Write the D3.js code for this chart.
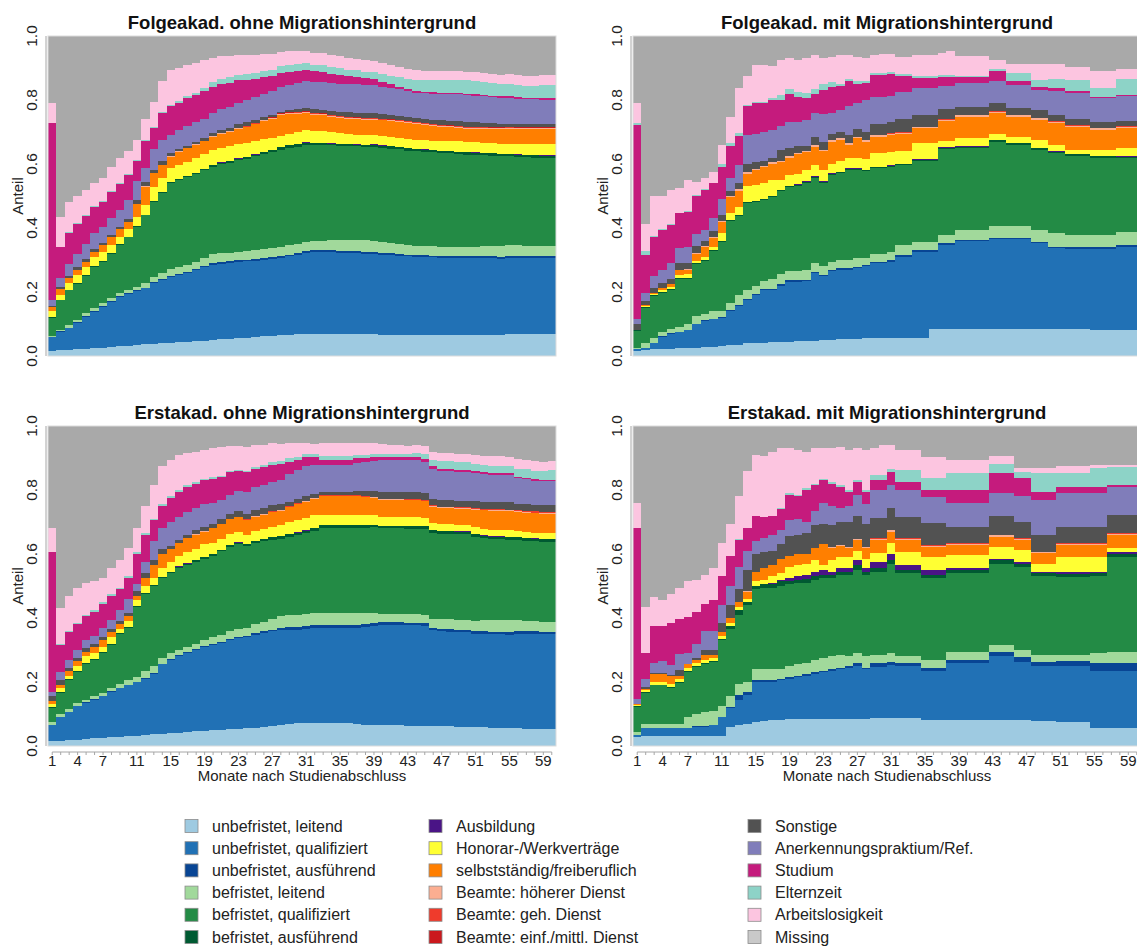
<!DOCTYPE html>
<html lang="de">
<head>
<meta charset="utf-8">
<title>Erwerbsverlauf nach Studienabschluss</title>
<script src="https://cdn.jsdelivr.net/npm/d3@7"></script>
<style>
    body { margin: 0; background: #ffffff; }
    svg { font-family: "Liberation Sans", Arial, sans-serif; }
</style>
</head>
<body>
<script type="text/javascript">

    var months = d3.range(1, 61);
    var tickMonths = [1, 4, 7, 11, 15, 19, 23, 27, 31, 35, 39, 43, 47, 51, 55, 59];
    var yTicks = [0, 0.2, 0.4, 0.6, 0.8, 1.0];

    var categories = ['unbefristet, leitend', 'unbefristet, qualifiziert', 'unbefristet, ausführend',
        'befristet, leitend', 'befristet, qualifiziert', 'befristet, ausführend',
        'Ausbildung', 'Honorar-/Werkverträge', 'selbstständig/freiberuflich',
        'Beamte: höherer Dienst', 'Beamte: geh. Dienst', 'Beamte: einf./mittl. Dienst',
        'Sonstige', 'Anerkennungspraktium/Ref.', 'Studium', 'Elternzeit', 'Arbeitslosigkeit', 'Missing'];
    var colors = ['#9ecae1', '#2171b5', '#084594', '#a1d99b', '#238b45', '#005a32',
        '#4a1486', '#ffff33', '#ff7f00', '#fcae91', '#ef3b2c', '#cb181d',
        '#525252', '#807dba', '#c51b7d', '#8dd3c7', '#fcc5e0', '#a9a9a9'];
    var legendColors = colors.slice(0, 17).concat(['#c9c9c9']);

    // Folgeakad. ohne Migrationshintergrund
    var FO_uL = [.017,.019,.020,.021,.022,.024,.026,.028,.030,.032, .034,.036,.038,.040,.042,.043,.044,.046,.048,.050, .052,.053,.055,.056,.058,.061,.063,.066,.067,.068, .069,.069,.069,.069,.068,.068,.068,.068,.068,.067, .067,.067,.066,.066,.066,.066,.066,.066,.066,.066, .066,.067,.067,.067,.068,.068,.069,.069,.070,.070];
    var FO_uQ = [.041,.057,.066,.083,.101,.115,.128,.142,.155,.162, .170,.175,.189,.197,.206,.210,.216,.222,.229,.235, .237,.238,.239,.240,.240,.240,.240,.239,.244,.249, .254,.257,.257,.256,.255,.254,.253,.252,.251,.249, .248,.247,.245,.244,.243,.242,.241,.240,.239,.239, .239,.238,.238,.237,.237,.237,.236,.236,.235,.235];
    var FO_uA = [.002,.002,.002,.002,.002,.002,.002,.002,.002,.002, .002,.002,.003,.003,.003,.003,.003,.003,.003,.005, .005,.005,.005,.005,.005,.005,.005,.006,.006,.006, .006,.006,.006,.006,.006,.006,.006,.006,.006,.006, .006,.006,.006,.006,.006,.006,.006,.006,.006,.006, .006,.006,.006,.006,.006,.006,.006,.006,.006,.006];
    var FO_bL = [.003,.004,.009,.006,.008,.008,.011,.010,.011,.010, .011,.016,.018,.020,.020,.023,.021,.024,.027,.029, .028,.027,.027,.026,.027,.028,.029,.030,.029,.028, .027,.026,.028,.030,.032,.034,.035,.036,.035,.034, .032,.030,.029,.028,.028,.029,.029,.030,.030,.030, .031,.032,.033,.034,.035,.035,.034,.033,.032,.032];
    var FO_bQ = [.057,.093,.109,.113,.117,.130,.128,.138,.149,.165, .187,.211,.232,.250,.269,.271,.276,.275,.274,.273, .277,.281,.286,.290,.294,.298,.301,.304,.304,.303, .303,.302,.300,.298,.296,.294,.293,.292,.293,.294, .295,.296,.296,.296,.295,.293,.292,.291,.290,.288, .286,.284,.282,.280,.278,.276,.276,.276,.276,.276];
    var FO_bA = [.001,.001,.001,.002,.002,.002,.002,.002,.002,.002, .002,.002,.003,.003,.003,.003,.003,.003,.003,.005, .005,.005,.005,.005,.005,.005,.005,.008,.008,.008, .008,.005,.005,.005,.005,.005,.005,.005,.007,.007, .007,.007,.007,.007,.007,.007,.007,.007,.007,.007, .007,.007,.007,.007,.007,.007,.007,.007,.007,.007];
    var FO_Au = [0,0,0,0,0,0,0,0,0,0, 0,0,0,0,0,0,0,0,0,.001, .001,.001,.001,.001,.001,.001,.001,.001,.001,.001, .001,.001,.001,.001,.001,.001,.001,.001,.001,.001, .001,.001,.001,.001,.001,.001,.001,.001,.001,.001, .001,.001,.001,.001,.001,.001,.001,.001,.001,.001];
    var FO_Hon = [.019,.014,.020,.026,.027,.027,.027,.025,.024,.023, .029,.030,.046,.042,.043,.044,.044,.045,.046,.046, .046,.045,.045,.044,.042,.040,.037,.035,.036,.037, .038,.038,.036,.034,.033,.032,.031,.030,.030,.029, .029,.028,.028,.027,.028,.029,.030,.031,.032,.032, .032,.032,.031,.031,.031,.031,.032,.033,.034,.034];
    var FO_Selb = [.012,.018,.016,.016,.016,.018,.023,.024,.023,.024, .040,.057,.042,.042,.037,.042,.042,.042,.041,.041, .043,.045,.047,.048,.052,.056,.060,.063,.060,.056, .053,.050,.050,.049,.049,.048,.048,.048,.048,.049, .049,.050,.050,.050,.048,.046,.044,.043,.042,.041, .042,.043,.044,.046,.047,.048,.048,.048,.048,.048];
    var FO_BhD = [0,0,0,0,0,0,0,0,0,0, .001,.001,.001,.001,.001,.001,.001,.001,.001,.002, .002,.002,.002,.002,.002,.002,.002,.003,.003,.003, .003,.003,.003,.003,.003,.003,.003,.003,.003,.003, .003,.003,.003,.003,.003,.003,.003,.003,.003,.003, .003,.003,.003,.003,.003,.003,.003,.003,.003,.003];
    var FO_BgD = [0,0,0,0,0,0,0,0,0,0, 0,0,0,0,0,0,0,0,0,.001, .002,.002,.002,.002,.002,.002,.002,.002,.002,.002, .002,.002,.002,.002,.002,.002,.002,.002,.002,.002, .002,.002,.002,.002,.002,.002,.002,.002,.002,.002, .002,.002,.002,.002,.002,.002,.002,.002,.002,.002];
    var FO_BeD = [0,0,0,0,0,0,0,0,0,0, 0,0,0,0,0,0,0,0,0,0, 0,0,0,.001,.001,.001,.001,.001,.001,.001, .001,.001,.001,.001,.001,.001,.001,.001,.001,.001, .001,.001,.001,.001,.001,.001,.001,.001,.001,.001, .001,.001,.001,.001,.001,.001,.001,.001,.001,.001];
    var FO_Sonst = [.004,.007,.007,.008,.009,.007,.007,.007,.008,.007, .012,.013,.010,.010,.010,.007,.007,.007,.008,.008, .009,.009,.010,.010,.008,.007,.006,.005,.007,.009, .010,.011,.012,.012,.013,.013,.014,.014,.014,.013, .013,.013,.012,.012,.013,.013,.014,.014,.015,.015, .014,.013,.012,.011,.010,.010,.009,.009,.009,.009];
    var FO_Lav = [.019,.030,.037,.042,.046,.050,.050,.052,.052,.060, .058,.044,.065,.068,.057,.060,.063,.062,.062,.062, .064,.066,.068,.070,.072,.074,.076,.078,.080,.082, .083,.084,.085,.086,.087,.088,.089,.089,.088,.086, .084,.082,.081,.080,.080,.081,.082,.083,.084,.084, .083,.082,.081,.080,.080,.079,.078,.078,.077,.077];
    var FO_Stud = [.552,.095,.096,.093,.087,.082,.078,.084,.081,.079, .062,.084,.065,.083,.089,.084,.086,.085,.085,.084, .080,.075,.069,.062,.057,.052,.047,.043,.041,.039, .037,.035,.033,.030,.028,.025,.023,.021,.018,.015, .012,.009,.007,.006,.005,.005,.005,.005,.005,.005, .005,.005,.005,.005,.005,.005,.005,.005,.006,.006];
    var FO_Teal = [0,.002,.003,.003,.003,.003,.003,.003,.003,.003, .003,.003,.003,.005,.005,.005,.005,.008,.012,.015, .016,.017,.017,.018,.019,.020,.020,.021,.020,.020, .020,.020,.021,.021,.021,.021,.021,.021,.023,.025, .027,.029,.031,.033,.035,.037,.039,.040,.041,.041, .040,.040,.039,.038,.038,.037,.038,.038,.039,.039];
    var FO_Pink = [.063,.091,.094,.085,.079,.074,.070,.073,.078,.071, .063,.067,.080,.094,.110,.105,.099,.093,.085,.073, .070,.067,.064,.060,.056,.052,.049,.046,.043,.040, .038,.037,.037,.037,.036,.036,.036,.036,.035,.034, .034,.033,.033,.032,.031,.030,.029,.028,.027,.027, .028,.029,.030,.030,.031,.031,.031,.031,.031,.031];

    // Folgeakad. mit Migrationshintergrund
    var FM_uL = [.017,.020,.022,.023,.023,.024,.025,.026,.027,.028, .030,.033,.035,.040,.040,.042,.043,.044,.045,.046, .047,.048,.049,.050,.052,.053,.054,.055,.055,.055, .055,.055,.055,.055,.055,.083,.083,.083,.083,.083, .083,.083,.083,.083,.083,.083,.083,.083,.083,.083, .083,.083,.083,.083,.080,.080,.080,.080,.080,.080];
    var FM_uQ = [.005,.005,.018,.037,.047,.051,.055,.074,.083,.087, .090,.107,.120,.135,.150,.163,.162,.176,.187,.186, .188,.212,.201,.215,.218,.217,.221,.225,.235,.235, .240,.255,.255,.271,.271,.243,.264,.264,.275,.275, .275,.275,.282,.282,.282,.282,.282,.269,.269,.254, .254,.252,.252,.252,.255,.255,.255,.262,.262,.262];
    var FM_uA = [.001,.001,.001,.001,.001,.001,.001,.001,.001,.001, .001,.005,.005,.004,.004,.004,.004,.004,.004,.004, .004,.004,.004,.004,.004,.004,.004,.004,.004,.004, .004,.005,.005,.005,.005,.005,.005,.005,.005,.005, .005,.005,.005,.005,.005,.005,.005,.005,.005,.005, .005,.005,.005,.005,.005,.005,.005,.005,.005,.005];
    var FM_bL = [.003,.014,.014,.014,.014,.014,.019,.024,.019,.024, .019,.020,.030,.026,.026,.026,.031,.031,.029,.029, .031,.026,.026,.026,.026,.026,.026,.021,.026,.026, .026,.032,.032,.026,.026,.026,.026,.026,.031,.031, .031,.031,.035,.035,.035,.035,.035,.037,.037,.041, .041,.038,.038,.038,.038,.038,.038,.042,.042,.042];
    var FM_bQ = [.052,.110,.132,.122,.122,.150,.142,.162,.167,.187, .217,.257,.247,.272,.262,.252,.257,.262,.262,.267, .272,.267,.262,.272,.272,.282,.277,.272,.267,.267, .267,.250,.250,.253,.253,.253,.268,.268,.255,.255, .255,.255,.265,.265,.255,.255,.255,.251,.251,.251, .251,.247,.247,.247,.242,.242,.242,.229,.229,.229];
    var FM_bA = [.003,.003,.003,.003,.003,.003,.003,.003,.003,.003, .003,.003,.003,.003,.003,.003,.003,.003,.003,.003, .003,.003,.003,.003,.003,.003,.003,.003,.003,.003, .003,.003,.003,.004,.004,.004,.005,.005,.005,.005, .005,.005,.005,.005,.005,.005,.005,.005,.005,.005, .005,.005,.005,.005,.005,.005,.005,.005,.005,.005];
    var FM_Au = [0,0,0,0,0,0,0,0,0,0, 0,0,0,0,0,0,0,0,.001,.001, .001,.001,.001,.001,.001,.001,.001,.001,.001,.001, .001,.001,.001,.001,.001,.001,.001,.001,.001,.001, .001,.001,.001,.001,.001,.001,.001,.001,.001,.001, .001,.001,.001,.001,.001,.001,.001,.001,.001,.001];
    var FM_Hon = [0,.004,.005,.007,.007,.010,.010,.008,.008,.010, .025,.022,.027,.050,.050,.050,.050,.030,.034,.034, .036,.037,.034,.029,.034,.034,.034,.034,.042,.042, .042,.040,.040,.050,.050,.050,.020,.020,.025,.025, .025,.025,.017,.017,.019,.019,.019,.024,.024,.020, .020,.014,.014,.014,.018,.018,.018,.025,.025,.025];
    var FM_Selb = [0,.001,.002,.005,.008,.015,.015,.022,.032,.030, .035,.050,.050,.040,.045,.050,.050,.055,.055,.060, .055,.055,.060,.070,.065,.040,.060,.055,.052,.052, .052,.052,.052,.046,.046,.046,.062,.062,.068,.068, .068,.068,.066,.066,.063,.063,.063,.063,.063,.067, .067,.070,.070,.070,.062,.062,.062,.063,.063,.063];
    var FM_BhD = [0,0,0,0,.001,.002,.002,.003,.003,.003, .003,.003,.005,.005,.005,.005,.005,.005,.005,.005, .005,.005,.005,.005,.005,.005,.005,.005,.005,.005, .005,.005,.005,.005,.005,.005,.005,.005,.005,.005, .005,.005,.005,.005,.005,.005,.005,.005,.005,.005, .005,.005,.005,.005,.005,.005,.005,.005,.005,.005];
    var FM_BgD = [0,0,0,0,0,0,0,0,0,0, 0,0,0,0,0,0,0,0,0,0, 0,0,0,0,0,0,0,0,0,.001, .001,.001,.001,.001,.001,.001,.001,.001,.001,.001, .001,.001,.001,.001,.001,.001,.001,.001,.001,.001, .001,.001,.001,.001,.001,.001,.001,.001,.001,.001];
    var FM_BeD = [0,0,0,0,0,0,0,0,0,0, 0,0,0,0,0,0,0,0,0,0, 0,0,0,0,0,0,0,0,0,0, 0,0,0,0,0,0,0,0,0,0, 0,0,0,0,0,0,0,0,0,0, 0,0,0,0,0,0,0,0,0,0];
    var FM_Sonst = [.020,.014,.016,.016,.014,.020,.018,.022,.017,.017, .017,.017,.020,.025,.020,.015,.015,.035,.025,.020, .015,.027,.025,.020,.020,.025,.025,.025,.035,.035, .035,.042,.042,.037,.037,.037,.032,.032,.023,.023, .023,.023,.026,.026,.022,.022,.022,.026,.026,.021, .021,.019,.019,.019,.018,.018,.018,.016,.016,.016];
    var FM_Lav = [.015,.026,.037,.042,.050,.047,.050,.035,.035,.040, .050,.040,.055,.090,.090,.090,.085,.075,.080,.075, .080,.075,.085,.065,.070,.090,.080,.100,.085,.083, .083,.083,.083,.083,.083,.083,.073,.073,.076,.076, .076,.076,.067,.067,.072,.072,.072,.061,.061,.073, .073,.083,.083,.083,.075,.075,.075,.078,.078,.078];
    var FM_Stud = [.605,.118,.123,.124,.120,.109,.110,.120,.125,.110, .100,.100,.090,.090,.095,.090,.095,.080,.090,.080, .070,.060,.075,.080,.075,.080,.060,.052,.068,.068, .066,.052,.052,.032,.032,.032,.028,.028,.018,.018, .018,.018,.032,.032,.010,.010,.010,.010,.010,.010, .010,.005,.005,.005,.004,.004,.004,.004,.004,.004];
    var FM_Teal = [.007,.013,.002,.002,.002,.002,.002,.002,.002,.002, .010,.010,.010,.005,.005,.005,.005,.015,.015,.015, .015,.015,.020,.015,.005,.005,.010,.006,.007,.007, .007,.006,.006,.006,.006,.006,.005,.005,.005,.005, .005,.005,.006,.006,.026,.026,.026,.020,.020,.029, .029,.035,.035,.035,.030,.030,.030,.050,.050,.050];
    var FM_Pink = [.062,.083,.125,.104,.108,.076,.098,.043,.033,.033, .060,.080,.140,.090,.115,.115,.100,.110,.095,.100, .110,.105,.080,.080,.090,.075,.075,.072,.055,.060, .058,.051,.051,.066,.066,.066,.070,.075,.060,.060, .060,.060,.030,.030,.027,.027,.027,.050,.050,.045, .045,.040,.040,.040,.053,.053,.053,.030,.030,.030];

    // Erstakad. ohne Migrationshintergrund
    var EO_uL = [.015,.017,.018,.020,.022,.024,.026,.028,.029,.030, .032,.034,.036,.038,.040,.042,.044,.046,.048,.050, .051,.052,.054,.055,.057,.060,.062,.065,.068,.071, .071,.071,.071,.071,.071,.071,.068,.067,.066,.065, .065,.065,.064,.064,.063,.062,.061,.061,.060,.060, .059,.058,.057,.057,.056,.055,.054,.053,.052,.052];
    var EO_uQ = [.050,.073,.087,.105,.113,.121,.129,.142,.151,.160, .168,.176,.189,.217,.230,.238,.246,.254,.262,.265, .271,.278,.283,.285,.290,.293,.297,.297,.295,.292, .295,.298,.299,.299,.299,.299,.302,.305,.309,.313, .313,.313,.313,.313,.313,.300,.297,.296,.295,.295, .292,.292,.292,.292,.292,.296,.297,.297,.297,.297];
    var EO_uA = [.001,.001,.001,.001,.001,.001,.001,.001,.001,.001, .001,.002,.002,.002,.002,.003,.003,.003,.003,.003, .004,.004,.004,.004,.005,.005,.005,.008,.008,.008, .008,.008,.008,.008,.008,.008,.008,.008,.008,.008, .008,.008,.008,.008,.008,.008,.008,.008,.008,.008, .008,.008,.008,.008,.008,.008,.008,.008,.008,.008];
    var EO_bL = [.009,.009,.009,.009,.009,.009,.009,.009,.014,.014, .014,.023,.023,.018,.018,.017,.017,.017,.017,.022, .022,.024,.024,.026,.028,.030,.032,.035,.037,.039, .039,.040,.039,.039,.039,.039,.039,.036,.033,.026, .026,.026,.026,.026,.026,.028,.030,.031,.031,.031, .033,.035,.037,.037,.037,.035,.033,.032,.032,.032];
    var EO_bQ = [.045,.065,.090,.095,.110,.115,.125,.135,.155,.165, .220,.240,.250,.250,.250,.255,.255,.255,.255,.255, .260,.265,.265,.255,.254,.252,.249,.243,.246,.249, .252,.255,.265,.265,.265,.265,.265,.266,.267,.268, .268,.268,.268,.268,.268,.268,.268,.268,.268,.268, .262,.256,.252,.252,.252,.250,.250,.250,.250,.250];
    var EO_bA = [.002,.005,.003,.003,.003,.003,.003,.003,.003,.003, .003,.003,.003,.004,.004,.005,.005,.005,.005,.005, .005,.005,.005,.005,.006,.006,.007,.007,.008,.008, .008,.008,.008,.008,.008,.008,.008,.008,.008,.008, .008,.008,.008,.008,.008,.008,.008,.008,.008,.008, .008,.008,.008,.008,.008,.008,.008,.008,.008,.008];
    var EO_Au = [0,0,0,0,0,0,0,0,0,0, 0,0,0,0,.001,.001,.001,.001,.001,.001, .001,.001,.001,.001,.001,.001,.001,.001,.001,.001, .001,.001,.001,.001,.001,.001,.001,.001,.001,.001, .001,.001,.001,.001,.001,.001,.001,.001,.001,.001, .001,.001,.001,.001,.001,.001,.001,.001,.001,.001];
    var EO_Hon = [.008,.010,.012,.017,.022,.017,.017,.022,.012,.017, .017,.022,.022,.026,.030,.034,.034,.034,.039,.034, .034,.034,.034,.029,.030,.031,.032,.034,.036,.039, .040,.040,.032,.032,.032,.032,.032,.031,.029,.028, .028,.028,.028,.028,.026,.022,.020,.020,.020,.020, .020,.020,.020,.020,.020,.018,.018,.018,.018,.018];
    var EO_Selb = [.010,.010,.015,.015,.015,.020,.020,.015,.015,.015, .015,.025,.040,.045,.040,.040,.045,.045,.040,.045, .045,.045,.045,.045,.045,.045,.045,.045,.047,.048, .050,.052,.057,.057,.057,.057,.057,.055,.054,.052, .052,.052,.052,.052,.052,.051,.051,.051,.051,.051, .055,.058,.060,.060,.060,.060,.060,.060,.060,.060];
    var EO_BhD = [0,0,0,0,0,0,0,0,0,0, 0,0,0,0,0,0,0,.001,.001,.001, .002,.002,.002,.002,.002,.002,.002,.002,.002,.002, .002,.002,.002,.002,.002,.002,.002,.002,.002,.002, .002,.002,.002,.002,.002,.002,.002,.002,.002,.002, .002,.002,.002,.002,.002,.002,.002,.002,.002,.002];
    var EO_BgD = [0,0,0,0,0,0,0,0,0,0, 0,0,0,0,0,0,0,0,0,0, 0,0,0,.001,.001,.001,.001,.001,.001,.001, .001,.001,.001,.001,.001,.001,.001,.001,.002,.002, .002,.002,.002,.002,.002,.002,.002,.002,.002,.002, .003,.003,.003,.003,.003,.004,.004,.004,.004,.004];
    var EO_BeD = [0,0,0,0,0,0,0,0,0,0, 0,0,0,0,0,0,0,0,0,0, 0,0,0,0,0,0,0,0,0,0, 0,0,0,0,0,0,0,0,0,0, 0,0,0,0,0,0,0,0,0,0, 0,0,0,0,0,0,0,0,0,0];
    var EO_Sonst = [.015,.015,.010,.010,.010,.010,.010,.010,.010,.010, .015,.015,.015,.015,.010,.010,.010,.014,.014,.014, .015,.015,.016,.017,.018,.018,.019,.017,.015,.013, .013,.013,.012,.012,.012,.012,.014,.016,.019,.022, .022,.022,.022,.022,.022,.021,.020,.020,.020,.020, .022,.022,.022,.022,.022,.020,.020,.020,.020,.020];
    var EO_Lav = [.015,.025,.025,.025,.025,.025,.030,.030,.035,.045, .020,.035,.060,.065,.075,.070,.070,.070,.070,.065, .060,.060,.065,.070,.072,.073,.074,.075,.085,.090, .095,.090,.083,.083,.083,.083,.087,.090,.094,.099, .099,.099,.099,.099,.097,.093,.090,.090,.090,.090, .088,.086,.085,.085,.085,.080,.078,.075,.075,.075];
    var EO_Stud = [.435,.085,.085,.080,.075,.075,.075,.075,.065,.065, .095,.085,.065,.070,.075,.080,.080,.075,.075,.075, .070,.070,.060,.060,.057,.054,.052,.050,.040,.033, .028,.025,.017,.017,.017,.017,.015,.013,.012,.010, .010,.010,.010,.010,.010,.009,.008,.008,.008,.008, .007,.006,.006,.006,.006,.005,.005,.005,.005,.005];
    var EO_Teal = [.002,.005,.005,.005,.005,.005,.005,.005,.005,.005, .005,.005,.005,.005,.005,.005,.005,.005,.005,.005, .005,.005,.005,.005,.006,.007,.008,.010,.010,.010, .010,.010,.010,.010,.010,.010,.009,.009,.008,.008, .008,.008,.008,.012,.016,.020,.024,.024,.024,.024, .022,.022,.022,.022,.022,.025,.027,.027,.028,.030];
    var EO_Pink = [.073,.110,.110,.110,.100,.090,.075,.080,.085,.090, .075,.085,.105,.120,.115,.110,.100,.095,.090,.090, .088,.076,.075,.075,.070,.064,.061,.055,.047,.042, .035,.030,.041,.041,.041,.041,.040,.038,.035,.032, .030,.028,.026,.025,.024,.025,.026,.026,.026,.026, .028,.029,.030,.030,.030,.030,.030,.030,.029,.028];

    // Erstakad. mit Migrationshintergrund
    var EM_uL = [.028,.030,.030,.030,.030,.030,.030,.030,.030,.030, .030,.060,.065,.070,.075,.078,.080,.080,.085,.085, .085,.085,.085,.085,.085,.085,.085,.083,.086,.086, .086,.086,.086,.086,.081,.081,.081,.081,.081,.081, .081,.081,.081,.081,.081,.081,.081,.078,.078,.078, .076,.076,.076,.076,.055,.055,.055,.055,.055,.055];
    var EM_uQ = [.005,.025,.025,.025,.025,.025,.025,.030,.030,.035, .060,.060,.080,.090,.125,.122,.120,.125,.125,.130, .135,.140,.145,.150,.155,.160,.165,.157,.162,.162, .167,.164,.164,.164,.154,.154,.154,.177,.177,.177, .177,.177,.199,.199,.199,.183,.183,.172,.172,.172, .174,.174,.174,.174,.180,.180,.180,.180,.180,.180];
    var EM_uA = [.001,.001,.001,.001,.001,.001,.001,.001,.001,.001, .001,.001,.015,.010,.005,.005,.005,.005,.005,.005, .005,.005,.005,.005,.005,.005,.010,.005,.010,.010, .010,.010,.010,.010,.010,.010,.010,.010,.010,.010, .010,.010,.015,.015,.015,.015,.015,.012,.012,.012, .015,.015,.015,.015,.023,.023,.023,.023,.023,.023];
    var EM_bL = [.011,.014,.014,.014,.014,.014,.034,.039,.044,.044, .034,.034,.035,.030,.035,.035,.035,.030,.035,.035, .035,.040,.040,.040,.040,.030,.030,.035,.026,.026, .027,.020,.020,.020,.025,.025,.025,.027,.027,.027, .027,.027,.020,.020,.020,.021,.021,.022,.022,.022, .019,.019,.019,.019,.032,.032,.037,.037,.037,.037];
    var EM_bQ = [.077,.095,.120,.120,.110,.127,.142,.147,.152,.152, .205,.210,.215,.240,.250,.255,.255,.260,.255,.255, .250,.250,.250,.245,.250,.255,.260,.255,.261,.261, .280,.260,.260,.260,.255,.255,.255,.245,.245,.245, .245,.245,.255,.255,.255,.260,.260,.246,.246,.246, .245,.245,.245,.245,.240,.240,.295,.295,.295,.295];
    var EM_bA = [.003,.004,.002,.002,.003,.003,.003,.003,.003,.003, .005,.010,.015,.010,.010,.010,.010,.015,.010,.010, .012,.010,.010,.010,.010,.010,.015,.010,.010,.010, .010,.010,.010,.010,.010,.010,.010,.010,.010,.010, .010,.010,.010,.010,.010,.010,.010,.010,.010,.010, .010,.010,.010,.010,.010,.010,.010,.010,.010,.010];
    var EM_Au = [0,0,0,0,0,0,0,0,0,0, 0,0,0,0,0,.002,.003,.005,.010,.010, .013,.015,.015,.010,.010,.010,.015,.010,.020,.020, .020,.015,.015,.015,.015,.015,.015,.005,.005,.005, .005,.005,.005,.005,.005,.005,.005,.005,.005,.005, .005,.005,.005,.005,.005,.005,.005,.005,.005,.005];
    var EM_Hon = [.003,.005,.008,.008,.010,.008,.010,.010,.010,.010, .010,.010,.010,.010,.015,.013,.022,.020,.035,.035, .035,.035,.015,.035,.035,.035,.030,.030,.027,.027, .033,.042,.042,.042,.040,.040,.040,.042,.042,.042, .042,.042,.038,.038,.038,.037,.037,.025,.025,.025, .046,.046,.046,.046,.045,.045,.013,.013,.013,.013];
    var EM_Selb = [.004,.005,.025,.025,.025,.012,.010,.010,.015,.010, .010,.015,.015,.020,.030,.035,.035,.045,.035,.035, .030,.040,.065,.040,.035,.030,.035,.035,.042,.042, .037,.037,.037,.037,.033,.033,.033,.031,.031,.031, .031,.031,.031,.031,.031,.032,.032,.032,.032,.032, .038,.038,.038,.038,.038,.038,.042,.042,.042,.042];
    var EM_BhD = [0,0,0,0,0,0,0,0,0,0, 0,0,0,.003,0,0,0,0,0,0, 0,0,0,.002,.003,.003,.003,.003,.003,.003, .004,.004,.004,.004,.003,.003,.003,.003,.003,.003, .003,.003,.004,.004,.004,.004,.004,.003,.003,.003, .004,.004,.004,.004,.004,.004,.004,.004,.004,.004];
    var EM_BgD = [0,0,0,0,0,0,0,0,0,0, 0,0,0,0,0,0,0,0,0,0, 0,0,0,0,0,0,0,0,.003,.003, .002,.002,.002,.002,.002,.002,.002,.002,.002,.002, .002,.002,.002,.002,.002,.002,.002,.002,.002,.002, .002,.002,.002,.002,.002,.002,.002,.002,.002,.002];
    var EM_BeD = [0,0,0,0,0,0,0,0,0,0, 0,0,0,0,0,0,0,0,0,0, 0,0,0,0,0,0,0,0,0,0, 0,0,0,0,0,0,0,0,0,0, 0,0,0,0,0,0,0,0,0,0, 0,0,0,0,0,0,0,0,0,0];
    var EM_Sonst = [0,.005,.002,.002,.003,.018,.002,.005,.015,.015, .030,.040,.040,.067,.055,.050,.045,.045,.060,.060, .065,.070,.065,.068,.072,.077,.072,.072,.061,.061, .067,.067,.067,.067,.068,.068,.068,.052,.052,.052, .052,.052,.059,.059,.059,.051,.051,.053,.053,.053, .051,.051,.051,.051,.051,.051,.056,.056,.056,.056];
    var EM_Lav = [.016,.026,.033,.038,.032,.050,.035,.045,.060,.060, .055,.060,.070,.060,.040,.045,.050,.045,.050,.050, .035,.045,.065,.060,.045,.050,.065,.060,.089,.089, .073,.083,.083,.083,.083,.083,.083,.073,.073,.073, .073,.073,.071,.071,.071,.079,.079,.109,.109,.109, .105,.105,.105,.105,.105,.105,.088,.088,.088,.088];
    var EM_Stud = [.532,.080,.115,.110,.130,.110,.110,.100,.085,.095, .090,.095,.085,.070,.080,.065,.060,.065,.080,.070, .100,.080,.070,.070,.065,.045,.040,.040,.031,.031, .041,.026,.026,.026,.021,.021,.021,.042,.042,.042, .042,.042,.062,.062,.062,.056,.056,.026,.026,.026, .020,.020,.020,.020,.020,.020,.006,.006,.006,.006];
    var EM_Teal = [0,0,0,0,0,0,0,0,0,0, 0,0,.003,.002,0,0,0,.005,.005,.005, .005,.005,.005,.005,.005,.005,.005,.005,.016,.016, .008,.037,.037,.037,.036,.036,.036,.052,.052,.052, .052,.052,.028,.028,.028,.019,.019,.057,.057,.057, .042,.042,.042,.042,.060,.060,.057,.057,.057,.057];
    var EM_Pink = [.080,.145,.090,.080,.092,.095,.115,.100,.090,.100, .105,.100,.132,.178,.190,.190,.200,.185,.140,.140, .115,.110,.095,.105,.120,.125,.100,.125,.083,.093, .075,.062,.062,.062,.068,.068,.068,.042,.042,.042, .042,.042,.025,.025,.025,.015,.015,.017,.017,.017, .023,.023,.023,.023,.008,.008,.005,.005,.005,.005];

    var keys = d3.range(categories.length).map(function (i) { return 'k' + i; });

    var panels = [
        {title: 'Folgeakad. ohne Migrationshintergrund', left: 48, top: 36, xAxis: false,
            series: [FO_uL, FO_uQ, FO_uA, FO_bL, FO_bQ, FO_bA, FO_Au, FO_Hon, FO_Selb, FO_BhD, FO_BgD, FO_BeD, FO_Sonst, FO_Lav, FO_Stud, FO_Teal, FO_Pink]},
        {title: 'Folgeakad. mit Migrationshintergrund', left: 633, top: 36, xAxis: false,
            series: [FM_uL, FM_uQ, FM_uA, FM_bL, FM_bQ, FM_bA, FM_Au, FM_Hon, FM_Selb, FM_BhD, FM_BgD, FM_BeD, FM_Sonst, FM_Lav, FM_Stud, FM_Teal, FM_Pink]},
        {title: 'Erstakad. ohne Migrationshintergrund', left: 48, top: 426, xAxis: true,
            series: [EO_uL, EO_uQ, EO_uA, EO_bL, EO_bQ, EO_bA, EO_Au, EO_Hon, EO_Selb, EO_BhD, EO_BgD, EO_BeD, EO_Sonst, EO_Lav, EO_Stud, EO_Teal, EO_Pink]},
        {title: 'Erstakad. mit Migrationshintergrund', left: 633, top: 426, xAxis: true,
            series: [EM_uL, EM_uQ, EM_uA, EM_bL, EM_bQ, EM_bA, EM_Au, EM_Hon, EM_Selb, EM_BhD, EM_BgD, EM_BeD, EM_Sonst, EM_Lav, EM_Stud, EM_Teal, EM_Pink]}
    ];

    var W = 508, H = 320;
    var axisGrey = '#a6a6a6';

    var svg = d3.select('body').append('svg')
        .attr('width', 1137)
        .attr('height', 947);

    panels.forEach(function (p) {
        var x = d3.scaleBand().domain(months).range([p.left, p.left + W]).padding(0);
        var y = d3.scaleLinear().domain([0, 1]).range([p.top + H, p.top]);

        // one row per month, Missing is whatever is left up to 1
        var rows = months.map(function (m, i) {
            var row = {month: m};
            var sum = 0;
            p.series.forEach(function (arr, k) {
                row[keys[k]] = arr[i];
                sum += arr[i];
            });
            row[keys[17]] = Math.max(0, 1 - sum);
            return row;
        });
        var stacked = d3.stack().keys(keys)(rows);

        var g = svg.append('g');

        g.selectAll('g.layer')
            .data(stacked)
            .enter().append('g')
            .attr('class', 'layer')
            .attr('fill', function (d, i) { return colors[i]; })
            .selectAll('rect')
            .data(function (d) { return d; })
            .enter().append('rect')
            .attr('x', function (d) { return x(d.data.month); })
            .attr('width', x.bandwidth())
            .attr('y', function (d) { return y(d[1]); })
            .attr('height', function (d) { return Math.max(0, y(d[0]) - y(d[1])); })
            .attr('shape-rendering', 'crispEdges');

        g.append('rect')
            .attr('x', p.left).attr('y', p.top)
            .attr('width', W).attr('height', H)
            .attr('fill', 'none')
            .attr('stroke', '#dcdcdc')
            .attr('stroke-width', 1);

        // y axis
        g.append('line')
            .attr('x1', p.left - 2).attr('x2', p.left - 2)
            .attr('y1', y(0)).attr('y2', y(1))
            .attr('stroke', axisGrey);

        g.selectAll('text.ytick')
            .data(yTicks)
            .enter().append('text')
            .attr('class', 'ytick')
            .attr('transform', function (d) { return 'translate(' + (p.left - 11) + ',' + y(d) + ') rotate(-90)'; })
            .attr('text-anchor', 'middle')
            .attr('font-size', '15.5px')
            .attr('fill', '#222')
            .text(d3.format('.1f'));

        g.append('text')
            .attr('transform', 'translate(' + (p.left - 25) + ',' + (p.top + H / 2) + ') rotate(-90)')
            .attr('text-anchor', 'middle')
            .attr('font-size', '15px')
            .attr('fill', '#222')
            .text('Anteil');

        g.append('text')
            .attr('x', p.left + W / 2)
            .attr('y', p.top - 7)
            .attr('text-anchor', 'middle')
            .attr('font-size', '18.5px')
            .attr('font-weight', 'bold')
            .attr('fill', '#111')
            .text(p.title);

        if (p.xAxis) {
            var half = x.bandwidth() / 2;
            var ay = p.top + H + 6;
            g.append('line')
                .attr('x1', x(1) + half).attr('x2', x(60) + half)
                .attr('y1', ay).attr('y2', ay)
                .attr('stroke', axisGrey);
            g.selectAll('line.xtick')
                .data(months)
                .enter().append('line')
                .attr('class', 'xtick')
                .attr('x1', function (d) { return x(d) + half; })
                .attr('x2', function (d) { return x(d) + half; })
                .attr('y1', ay).attr('y2', ay + 3)
                .attr('stroke', axisGrey);
            g.selectAll('text.xtick')
                .data(tickMonths)
                .enter().append('text')
                .attr('class', 'xtick')
                .attr('x', function (d) { return x(d) + half; })
                .attr('y', ay + 14)
                .attr('text-anchor', 'middle')
                .attr('font-size', '15px')
                .attr('fill', '#222')
                .text(function (d) { return d; });
            g.append('text')
                .attr('x', p.left + W / 2)
                .attr('y', ay + 29)
                .attr('text-anchor', 'middle')
                .attr('font-size', '15px')
                .attr('fill', '#222')
                .text('Monate nach Studienabschluss');
        }
    });

    // legend, three columns of six
    var legendCols = [185, 429, 748];
    var legend = svg.append('g');
    categories.forEach(function (name, i) {
        var col = Math.floor(i / 6), row = i % 6;
        var lx = legendCols[col], ly = 826 + row * 22.2;
        legend.append('rect')
            .attr('x', lx).attr('y', ly - 6.5)
            .attr('width', 13).attr('height', 13)
            .attr('fill', legendColors[i])
            .attr('stroke', '#8c8c8c')
            .attr('stroke-width', 0.8);
        legend.append('text')
            .attr('x', lx + 27).attr('y', ly + 5.5)
            .attr('font-size', '16px')
            .attr('fill', '#222')
            .text(name);
    });

</script>
</body>
</html>
